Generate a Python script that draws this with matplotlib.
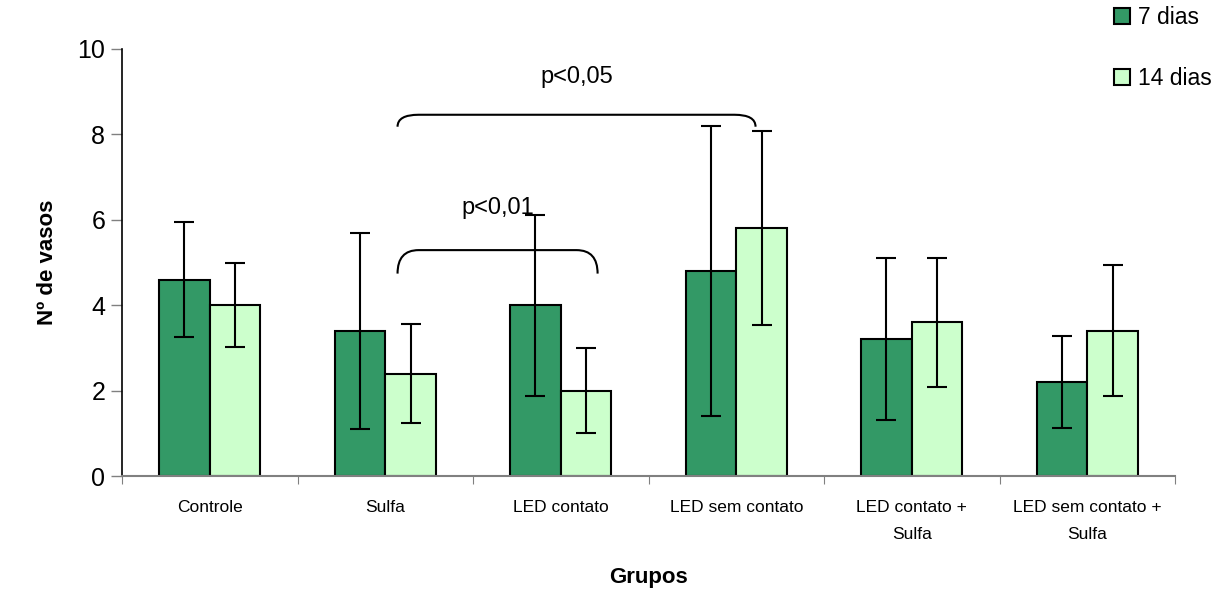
import matplotlib as mplt
mplt.use('Agg')
import numpy as np
import matplotlib.pyplot as plt
from matplotlib.path import Path
from matplotlib.patches import PathPatch, Patch

plt.rcParams['font.family'] = ['Liberation Sans', 'DejaVu Sans']

groups = ['Controle', 'Sulfa', 'LED contato', 'LED sem contato',
          'LED contato +\nSulfa', 'LED sem contato +\nSulfa']
dias7 = [4.6, 3.4, 4.0, 4.8, 3.2, 2.2]
dias7_err = [1.35, 2.3, 2.12, 3.4, 1.9, 1.08]
dias14 = [4.0, 2.4, 2.0, 5.8, 3.6, 3.4]
dias14_err = [0.98, 1.15, 0.99, 2.27, 1.51, 1.53]

# brackets: (x left, x right, y top, label, label y)
brackets = [(1.07, 2.21, 5.29, 'p<0,01', 6.28),
            (1.07, 3.11, 8.46, 'p<0,05', 9.35)]

def draw_bracket(ax, x0, x1, y, drop, r):
    verts = [(x0, y - drop), (x0, y), (x0 + r, y),
             (x1 - r, y),
             (x1, y), (x1, y - drop)]
    codes = [Path.MOVETO, Path.CURVE3, Path.CURVE3,
             Path.LINETO, Path.CURVE3, Path.CURVE3]
    ax.add_patch(PathPatch(Path(verts, codes), fill=False, lw=1.5, color='k'))

def main():
    fig = plt.figure(figsize=(12.23, 5.94), dpi=100)
    ax = fig.add_axes([122/1223, 1 - 476/594, (1175-122)/1223, (476-49)/594])

    x = np.arange(len(groups))
    w = 0.288
    ekw = dict(elinewidth=1.5, capthick=1.5)
    ax.bar(x - w/2, dias7, w, yerr=dias7_err, capsize=7, color='#339966',
           edgecolor='k', lw=1.5, error_kw=ekw, label='7 dias', zorder=2)
    ax.bar(x + w/2, dias14, w, yerr=dias14_err, capsize=7, color='#CCFFCC',
           edgecolor='k', lw=1.5, error_kw=ekw, label='14 dias', zorder=2)

    for x0, x1, y, txt, ty in brackets:
        draw_bracket(ax, x0, x1, y, 0.55 if y < 7 else 0.28, 0.12)
        ax.text((x0 + x1)/2, ty, txt, ha='center', va='center', size=17)

    ax.set_xlim(-0.5, len(groups) - 0.5)
    ax.set_ylim(0, 10)
    ax.set_yticks(range(0, 11, 2))
    ax.tick_params('y', labelsize=18, length=8, width=1, color='gray', pad=4)
    ax.set_xticks(np.arange(len(groups) + 1) - 0.5, minor=False)
    ax.set_xticklabels([])
    ax.set_xticks(x, minor=True)
    ax.set_xticklabels(groups, minor=True, size=12.5, linespacing=2.0)
    ax.tick_params('x', which='major', length=6, color='gray')
    ax.tick_params('x', which='minor', length=0, pad=17)
    for s in ['top', 'right']:
        ax.spines[s].set_visible(False)
    ax.spines['bottom'].set_color('gray')
    ax.spines['bottom'].set_linewidth(1.5)
    ax.spines['left'].set_linewidth(1.2)

    ax.set_xlabel('Grupos', size=16, weight='bold', labelpad=18)
    ax.set_ylabel('Nº de vasos', size=16, weight='bold', labelpad=14)

    handles = [Patch(facecolor='#339966', edgecolor='k', lw=1.5, label='7 dias'),
               Patch(facecolor='#CCFFCC', edgecolor='k', lw=1.5, label='14 dias')]
    fig.legend(handles=handles, loc='upper left', bbox_to_anchor=(1108/1223, 1.0),
               frameon=False, prop={'size': 16.5}, handlelength=0.7, handleheight=0.7,
               handletextpad=0.35, labelspacing=1.65, borderaxespad=0, borderpad=0.25)

    fig.savefig('out.png', dpi=100)

if __name__ == "__main__":
    main()
